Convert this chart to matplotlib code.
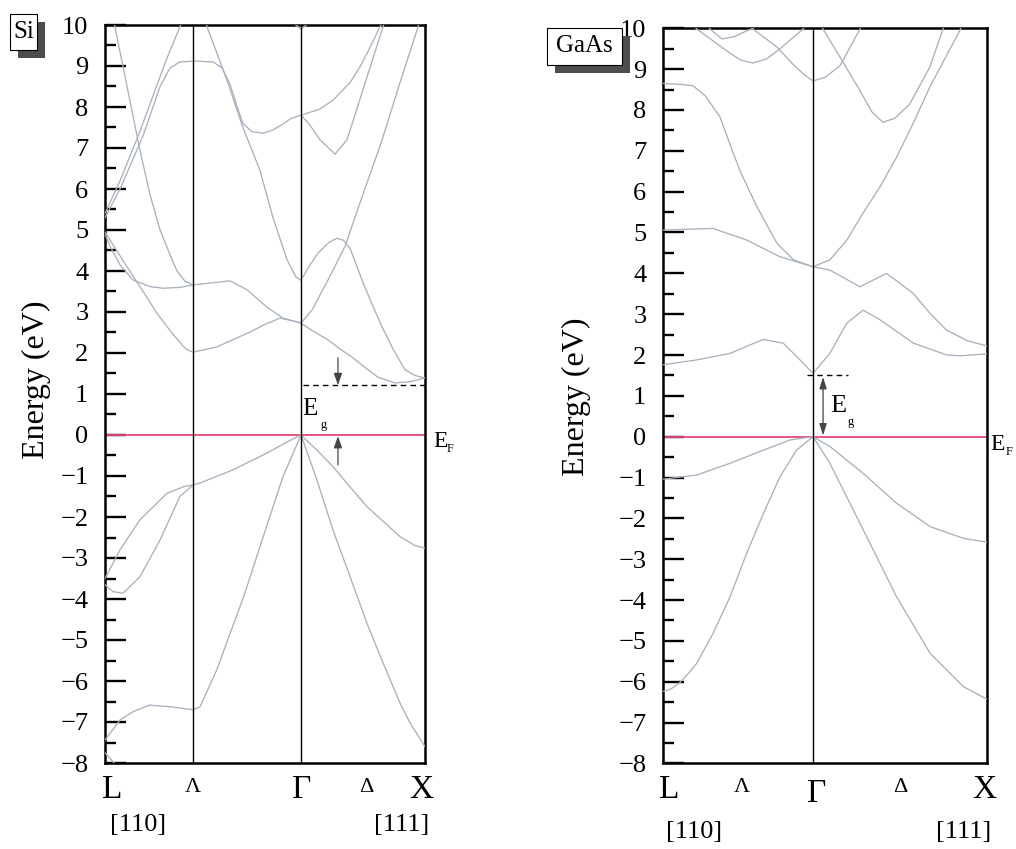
import matplotlib
matplotlib.use("Agg")
import matplotlib.pyplot as plt
from matplotlib.patches import Rectangle
from matplotlib.ticker import MultipleLocator

plt.rcParams['font.family'] = ['Liberation Serif', 'DejaVu Serif']

# k runs from L (0) to X (1) along each panel
si_gamma = 0.6125
si_lambda_line = 0.275
ga_gamma = 0.463

# ---- Si bands (k, E in eV) ----
si_a_k = [0.025, 0.031, 0.069, 0.109, 0.141, 0.172, 0.203, 0.225, 0.25, 0.275]
si_a_e = [10.25, 9.95, 8.5, 6.95, 5.85, 5.0, 4.4, 4.0, 3.75, 3.66]
si_b_k = [0.0, 0.047, 0.109, 0.156, 0.194, 0.234, 0.25]
si_b_e = [5.4, 6.2, 7.4, 8.4, 9.2, 9.95, 10.3]
si_f_k = [0.0, 0.047, 0.119, 0.172, 0.203, 0.234, 0.281, 0.338, 0.366, 0.391, 0.413, 0.431,
          0.459, 0.494, 0.522, 0.553, 0.581, 0.6125, 0.672, 0.713, 0.766, 0.797, 0.828, 0.859, 0.875]
si_f_e = [5.3, 6.0, 7.3, 8.5, 8.95, 9.1, 9.12, 9.1, 8.95, 8.55, 8.0, 7.6,
          7.4, 7.36, 7.43, 7.57, 7.72, 7.8, 7.95, 8.17, 8.6, 8.98, 9.45, 9.95, 10.2]
si_c_k = [0.0, 0.069, 0.119, 0.1625, 0.203, 0.244, 0.256, 0.275, 0.35, 0.453, 0.5, 0.547, 0.578, 0.6125]
si_c_e = [4.95, 4.1, 3.5, 2.97, 2.55, 2.17, 2.08, 2.02, 2.15, 2.51, 2.7, 2.85, 2.8, 2.73]
si_d_k = [0.0, 0.016, 0.047, 0.0875, 0.141, 0.181, 0.234, 0.275, 0.344, 0.391, 0.444, 0.506, 0.556, 0.6125]
si_d_e = [4.9, 4.6, 4.15, 3.78, 3.62, 3.58, 3.6, 3.66, 3.72, 3.76, 3.54, 3.12, 2.85, 2.73]
si_e_k = [0.3125, 0.319, 0.381, 0.431, 0.484, 0.525, 0.569, 0.597, 0.6125]
si_e_e = [10.2, 9.95, 8.66, 7.5, 6.46, 5.3, 4.27, 3.85, 3.78]
si_top_k = [0.58, 0.6125, 0.645]
si_top_e = [10.1, 9.9, 10.1]
si_g_k = [0.6125, 0.641, 0.666, 0.7, 0.725, 0.745, 0.766, 0.803, 0.834, 0.866, 0.9, 0.9375, 0.969, 1.0]
si_g_e = [3.78, 4.15, 4.44, 4.7, 4.8, 4.75, 4.55, 3.78, 3.2, 2.63, 2.1, 1.59, 1.45, 1.39]
si_h_k = [0.6125, 0.647, 0.697, 0.734, 0.772, 0.812, 0.853, 0.906, 0.953, 1.0]
si_h_e = [2.73, 2.55, 2.32, 2.1, 1.9, 1.65, 1.41, 1.27, 1.3, 1.39]
si_i_k = [0.6125, 0.647, 0.697, 0.75, 0.803, 0.866, 0.922, 0.978, 0.99]
si_i_e = [2.73, 3.05, 3.78, 4.6, 5.8, 7.2, 8.6, 9.95, 10.3]
si_j_k = [0.6125, 0.641, 0.672, 0.719, 0.756, 0.781, 0.8125, 0.844, 0.875]
si_j_e = [7.8, 7.55, 7.2, 6.85, 7.2, 7.8, 8.58, 9.35, 10.1]
si_v1_k = [0.0, 0.047, 0.109, 0.194, 0.25, 0.275, 0.297, 0.4, 0.506, 0.569, 0.6125,
           0.6625, 0.7125, 0.766, 0.819, 0.922, 0.97, 1.0]
si_v1_e = [-3.5, -2.8, -2.07, -1.42, -1.25, -1.22, -1.17, -0.85, -0.44, -0.17, 0.0,
           -0.37, -0.77, -1.27, -1.75, -2.48, -2.7, -2.76]
si_v2_k = [0.0, 0.025, 0.056, 0.109, 0.172, 0.234, 0.275]
si_v2_e = [-3.65, -3.82, -3.86, -3.46, -2.56, -1.5, -1.22]
si_v3_k = [0.0, 0.047, 0.0875, 0.1375, 0.194, 0.275, 0.297, 0.349, 0.4335, 0.5083, 0.556, 0.6125,
           0.6625, 0.7125, 0.766, 0.819, 0.869, 0.922, 0.953, 1.0]
si_v3_e = [-7.44, -6.95, -6.75, -6.59, -6.62, -6.7, -6.63, -5.73, -3.94, -2.15, -1.02, 0.0,
           -1.1, -2.32, -3.46, -4.6, -5.56, -6.54, -7.02, -7.6]
si_v4_k = [0.0, 0.04]
si_v4_e = [-7.75, -8.1]

si_bands = [(si_a_k, si_a_e), (si_b_k, si_b_e), (si_f_k, si_f_e), (si_c_k, si_c_e),
            (si_d_k, si_d_e), (si_e_k, si_e_e), (si_top_k, si_top_e), (si_g_k, si_g_e),
            (si_h_k, si_h_e), (si_i_k, si_i_e), (si_j_k, si_j_e), (si_v1_k, si_v1_e),
            (si_v2_k, si_v2_e), (si_v3_k, si_v3_e), (si_v4_k, si_v4_e)]

# ---- GaAs bands ----
ga_c1_k = [0.0, 0.104, 0.207, 0.26, 0.31, 0.371, 0.413, 0.463, 0.515, 0.567, 0.618, 0.67, 0.773, 0.876, 0.917, 1.0]
ga_c1_e = [1.76, 1.88, 2.04, 2.22, 2.38, 2.29, 1.96, 1.55, 2.04, 2.78, 3.1, 2.86, 2.29, 2.0, 1.98, 2.03]
ga_c2_k = [0.0, 0.154, 0.257, 0.36, 0.463, 0.515, 0.608, 0.69, 0.772, 0.824, 0.875, 0.94, 1.0]
ga_c2_e = [5.06, 5.1, 4.82, 4.41, 4.16, 4.08, 3.67, 4.0, 3.51, 3.02, 2.61, 2.35, 2.22]
ga_c3_k = [0.0, 0.05, 0.093, 0.13, 0.176, 0.207, 0.238, 0.29, 0.352, 0.403, 0.463, 0.515, 0.567, 0.617,
           0.67, 0.722, 0.772, 0.824, 0.917, 0.93]
ga_c3_e = [8.65, 8.63, 8.59, 8.35, 7.83, 7.15, 6.5, 5.63, 4.73, 4.33, 4.16, 4.33, 4.81, 5.47,
           6.12, 6.86, 7.67, 8.57, 9.96, 10.2]
ga_s_k = [0.478, 0.494, 0.546, 0.608, 0.645, 0.679, 0.716, 0.762, 0.824, 0.864, 0.877]
ga_s_e = [10.15, 9.98, 9.3, 8.47, 7.95, 7.7, 7.8, 8.15, 9.06, 9.98, 10.2]
ga_r_k = [0.262, 0.278, 0.352, 0.401, 0.438, 0.463, 0.5, 0.546, 0.608, 0.62]
ga_r_e = [10.2, 9.98, 9.54, 9.12, 8.85, 8.71, 8.8, 9.08, 9.98, 10.2]
ga_q_k = [0.083, 0.105, 0.198, 0.24, 0.278, 0.32, 0.361, 0.432, 0.448]
ga_q_e = [10.15, 9.98, 9.44, 9.22, 9.15, 9.25, 9.5, 9.98, 10.15]
ga_p_k = [0.13, 0.145, 0.182, 0.222, 0.253, 0.278]
ga_p_e = [10.15, 9.98, 9.74, 9.8, 9.92, 10.0]
ga_v1_k = [0.0, 0.104, 0.207, 0.31, 0.392, 0.463, 0.515, 0.618, 0.721, 0.824, 0.927, 1.0]
ga_v1_e = [-1.04, -0.94, -0.65, -0.33, -0.08, 0.0, -0.24, -0.9, -1.63, -2.2, -2.49, -2.58]
ga_v2_k = [0.0, 0.026, 0.052, 0.078, 0.104, 0.155, 0.207, 0.258, 0.31, 0.361, 0.412, 0.463,
           0.515, 0.618, 0.721, 0.824, 0.927, 1.0]
ga_v2_e = [-6.24, -6.17, -6.02, -5.8, -5.55, -4.81, -3.92, -2.86, -1.88, -0.98, -0.33, 0.0,
           -0.65, -2.28, -3.92, -5.3, -6.12, -6.43]

ga_bands = [(ga_c1_k, ga_c1_e), (ga_c2_k, ga_c2_e), (ga_c3_k, ga_c3_e), (ga_s_k, ga_s_e),
            (ga_r_k, ga_r_e), (ga_q_k, ga_q_e), (ga_p_k, ga_p_e), (ga_v1_k, ga_v1_e),
            (ga_v2_k, ga_v2_e)]

# band gaps
si_eg = 1.22
ga_eg = 1.51

# k-point labels
si_sym_k = [0.022, 0.275, 0.615, 0.816, 0.99]
ga_sym_k = [0.019, 0.244, 0.475, 0.731, 0.991]
sym_labels = ['L', 'Λ', 'Γ', 'Δ', 'X']
sym_sizes = [24, 16, 24, 16, 24]

band_color = '#a9b1bd'
fermi_color = '#e8467a'

fig = plt.figure(figsize=(10.16, 8.49), dpi=100)
ax1 = fig.add_axes([105 / 1016, 1 - 763 / 849, 320 / 1016, 738 / 849])
ax2 = fig.add_axes([663 / 1016, 1 - 763.4 / 849, 324 / 1016, 735.1 / 849])


def style(ax):
    ax.set_xlim(0, 1)
    ax.set_ylim(-8, 10)
    ax.set_xticks([])
    ax.yaxis.set_major_locator(MultipleLocator(1))
    ax.yaxis.set_minor_locator(MultipleLocator(0.5))
    ax.tick_params(axis='y', which='major', direction='in', length=15, width=1.7,
                   labelsize=19, pad=12)
    ax.tick_params(axis='y', which='minor', direction='in', length=8, width=1.7)
    for s in ax.spines.values():
        s.set_linewidth(1.8)
    ax.axhline(0, color=fermi_color, lw=1.3, zorder=2)


def draw_bands(ax, bands):
    for k, e in bands:
        ax.plot(k, e, color=band_color, lw=0.95, zorder=3)


for ax in (ax1, ax2):
    style(ax)

draw_bands(ax1, si_bands)
draw_bands(ax2, ga_bands)

ax1.axvline(si_lambda_line, color='black', lw=1.0, zorder=4)
ax1.axvline(si_gamma, color='black', lw=1.0, zorder=4)
ax2.axvline(ga_gamma, color='black', lw=1.0, zorder=4)

# symmetry labels below the axes
for ax, ks, yl in ((ax1, si_sym_k, -0.0366), (ax2, ga_sym_k, -0.0362)):
    tr = ax.get_xaxis_transform()
    for kk, lab, fs in zip(ks, sym_labels, sym_sizes):
        yy = yl if fs > 20 else yl + 0.004
        if ax is ax2 and lab == 'Γ':
            yy = yl - 0.005
        ax.text(kk, yy, lab, transform=tr, ha='center', va='center', fontsize=fs)
ax1.text(0.103, -0.084, '[110]', transform=ax1.get_xaxis_transform(), ha='center', va='center', fontsize=19)
ax1.text(0.928, -0.084, '[111]', transform=ax1.get_xaxis_transform(), ha='center', va='center', fontsize=19)
ax2.text(0.096, -0.0933, '[110]', transform=ax2.get_xaxis_transform(), ha='center', va='center', fontsize=19)
ax2.text(0.929, -0.0933, '[111]', transform=ax2.get_xaxis_transform(), ha='center', va='center', fontsize=19)

# y labels
fig.text(36 / 1016, 1 - 380 / 849, 'Energy (eV)', rotation=90, ha='center', va='center', fontsize=23)
fig.text(576 / 1016, 1 - 397 / 849, 'Energy (eV)', rotation=90, ha='center', va='center', fontsize=23)

# Fermi level labels
ax1.text(1.025, -0.29, 'E', fontsize=17, ha='left', va='baseline', clip_on=False)
ax1.text(1.069, -0.41, 'F', fontsize=9, ha='left', va='baseline', clip_on=False)
ax2.text(1.009, -0.33, 'E', fontsize=17, ha='left', va='baseline', clip_on=False)
ax2.text(1.059, -0.45, 'F', fontsize=9, ha='left', va='baseline', clip_on=False)

# Si gap annotation
ax1.plot([0.62, 1.0], [si_eg, si_eg], color='black', lw=1.0, ls=(0, (4, 3)), zorder=5)
ax1.annotate('', xy=(0.728, si_eg), xytext=(0.728, si_eg + 0.66),
             arrowprops=dict(arrowstyle='-|>,head_width=0.25,head_length=0.7',
                             color='#444444', lw=0.9, shrinkA=0, shrinkB=0))
ax1.annotate('', xy=(0.728, -0.03), xytext=(0.728, -0.73),
             arrowprops=dict(arrowstyle='-|>,head_width=0.25,head_length=0.7',
                             color='#444444', lw=0.9, shrinkA=0, shrinkB=0))
ax1.text(0.615, 0.49, 'E', fontsize=18, ha='left', va='baseline')
ax1.text(0.672, 0.17, 'g', fontsize=9, ha='left', va='baseline')

# GaAs gap annotation
ax2.plot([0.444, 0.571], [ga_eg, ga_eg], color='black', lw=1.0, ls=(0, (4, 3)), zorder=5)
ax2.annotate('', xy=(0.494, ga_eg - 0.05), xytext=(0.494, 0.03),
             arrowprops=dict(arrowstyle='<|-|>,head_width=0.22,head_length=0.7',
                             color='#444444', lw=0.9, shrinkA=0, shrinkB=0))
ax2.text(0.515, 0.6, 'E', fontsize=19, ha='left', va='baseline')
ax2.text(0.568, 0.29, 'g', fontsize=9, ha='left', va='baseline')


# material labels with drop shadow
def label_box(x0, y0, x1, y1, text):
    w, h = (x1 - x0) / 1016, (y1 - y0) / 849
    fig.patches.append(Rectangle((x0 / 1016 + 8 / 1016, 1 - y1 / 849 - 8 / 849), w, h,
                                 transform=fig.transFigure, facecolor='#4d4d4d',
                                 edgecolor='none', zorder=1))
    fig.patches.append(Rectangle((x0 / 1016, 1 - y1 / 849), w, h, transform=fig.transFigure,
                                 facecolor='white', edgecolor='black', lw=0.8, zorder=2))
    fig.text((x0 + x1) / 2 / 1016, 1 - (y0 + y1) / 2 / 849, text, ha='center', va='center',
             fontsize=18, zorder=3)


label_box(10, 14, 37, 50, 'Si')
label_box(547, 28, 622, 65, 'GaAs')

fig.savefig('out.png', dpi=100)
